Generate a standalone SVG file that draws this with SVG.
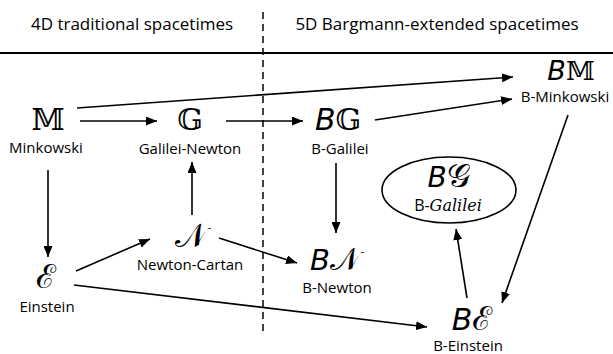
<svg xmlns="http://www.w3.org/2000/svg" width="613" height="354" viewBox="0 0 613 354">
<style>
.hdr{font-family:"Open Sans","Liberation Sans",sans-serif;font-size:17px;fill:#000;text-anchor:middle}
.lbl{font-family:"Open Sans","Liberation Sans",sans-serif;font-size:15px;fill:#000;text-anchor:middle}
.sym{font-family:"DejaVu Serif","Noto Sans","Liberation Serif",serif;font-size:30px;fill:#000;text-anchor:middle}
.scr{font-size:33px}
.b{font-style:italic;font-family:"DejaVu Sans","Liberation Sans",sans-serif;font-size:30px}
.conn line{stroke:#000;stroke-width:1.6;fill:none}
.arr{marker-end:url(#ah)}
</style>
<defs>
<marker id="ah" markerUnits="userSpaceOnUse" markerWidth="11" markerHeight="9" refX="11" refY="4.5" orient="auto">
<path d="M0,0 L11,4.5 L0,9 z" fill="#000"/>
</marker>
</defs>
<rect width="613" height="354" fill="#fff"/>
<g id="header">
<text class="hdr" x="132" y="30">4D traditional spacetimes</text>
<text class="hdr" x="437" y="30">5D Bargmann-extended spacetimes</text>
<line x1="0" y1="53" x2="613" y2="53" stroke="#000" stroke-width="2"/>
<line x1="263" y1="12" x2="263" y2="334" stroke="#000" stroke-width="1.5" stroke-dasharray="7,5"/>
</g>
<g id="connectors" class="conn">
<line class="arr" x1="80" y1="121" x2="157" y2="121"/>
<line class="arr" x1="226" y1="121" x2="303" y2="121"/>
<line class="arr" x1="77" y1="108" x2="513" y2="77"/>
<line class="arr" x1="375" y1="120" x2="512" y2="99"/>
<line class="arr" x1="568" y1="115" x2="502" y2="303"/>
<line class="arr" x1="336" y1="163" x2="336" y2="233"/>
<line class="arr" x1="192" y1="215" x2="192" y2="162"/>
<line class="arr" x1="219" y1="238" x2="297" y2="263"/>
<line class="arr" x1="48" y1="170" x2="48" y2="257"/>
<line class="arr" x1="76" y1="271" x2="150" y2="239"/>
<line class="arr" x1="74" y1="285" x2="427" y2="327"/>
<line class="arr" x1="467" y1="298" x2="456" y2="229"/>
</g>
<g id="node-M">
<text class="sym" x="48" y="130">𝕄</text>
<text class="lbl" x="46" y="153">Minkowski</text>
</g>
<g id="node-G">
<text class="sym" x="190" y="130">𝔾</text>
<text class="lbl" x="190" y="154">Galilei-Newton</text>
</g>
<g id="node-BG">
<text class="sym" x="338" y="130"><tspan class="b">B</tspan>𝔾</text>
<text class="lbl" x="340" y="154">B-Galilei</text>
</g>
<g id="node-BM">
<text class="sym" x="571" y="80" style="font-size:26px"><tspan class="b" style="font-size:27px">B</tspan>𝕄</text>
<text class="lbl" x="565" y="102">B-Minkowski</text>
</g>
<g id="node-N">
<text class="sym scr" x="191" y="247">𝒩</text>
<text class="lbl" x="190" y="270">Newton-Cartan</text>
</g>
<g id="node-BN">
<text class="sym" x="335" y="270" style="font-size:31px"><tspan class="b" style="font-size:29px">B</tspan>𝒩</text>
<text class="lbl" x="337" y="293">B-Newton</text>
</g>
<g id="node-E">
<text class="sym scr" x="46" y="288">ℰ</text>
<text class="lbl" x="47" y="312">Einstein</text>
</g>
<g id="node-BE">
<text class="sym scr" x="472" y="330"><tspan class="b">B</tspan>ℰ</text>
<text class="lbl" x="468" y="351">B-Einstein</text>
</g>
<g id="node-BGscript">
<ellipse cx="449" cy="190" rx="67" ry="33" fill="none" stroke="#000" stroke-width="1.6"/>
<text class="sym scr" x="449" y="187"><tspan class="b" style="font-size:28px">B</tspan>𝒢</text>
<text class="lbl" x="448" y="211" style="font-size:16px">B-<tspan style="font-family:'DejaVu Serif','Liberation Serif',serif;font-style:italic">Galilei</tspan></text>
</g>
</svg>
